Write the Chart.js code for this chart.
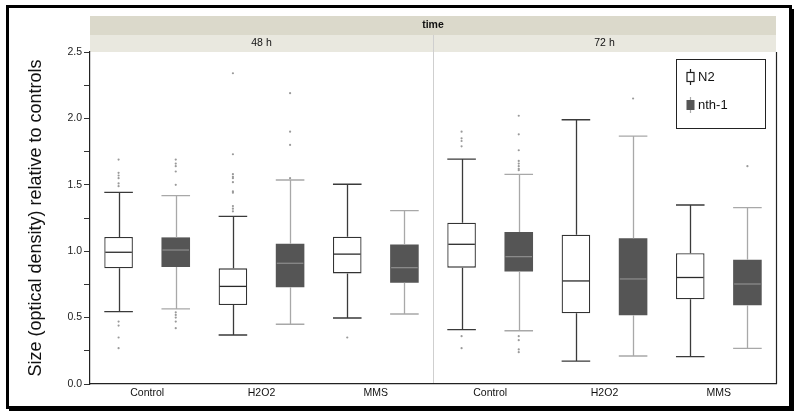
<!DOCTYPE html>
<html>
<head>
<meta charset="utf-8">
<script src="https://cdn.jsdelivr.net/npm/chart.js@4.4.1/dist/chart.umd.min.js"></script>
<style>
  html, body { margin: 0; padding: 0; background: #fff; }
  #wrap { position: relative; width: 800px; height: 417px; }
</style>
</head>
<body>
<div id="wrap"><canvas id="c"></canvas></div>
<script>
// ---- data ----
const categories = ['Control', 'H2O2', 'MMS', 'Control', 'H2O2', 'MMS'];
const timeGroups = ['48 h', '72 h'];
const facetTitle = 'time';
const yTitle = 'Size (optical density) relative to controls';
const seriesNames = ['N2', 'nth-1'];
const yTicks = [0, 0.5, 1.0, 1.5, 2.0, 2.5];

const n2Low    = [0.545, 0.369, 0.497, 0.409, 0.173, 0.206];
const n2Q1     = [0.871, 0.595, 0.833, 0.876, 0.532, 0.638];
const n2Median = [0.992, 0.735, 0.978, 1.052, 0.776, 0.802];
const n2Q3     = [1.107, 0.871, 1.109, 1.215, 1.124, 0.984];
const n2High   = [1.443, 1.262, 1.504, 1.694, 1.990, 1.348];
const n2Outliers = [
  [1.69, 1.59, 1.57, 1.55, 1.51, 1.49, 0.47, 0.44, 0.35, 0.27],
  [2.34, 1.73, 1.58, 1.56, 1.55, 1.52, 1.45, 1.44, 1.34, 1.32, 1.30],
  [0.35],
  [1.90, 1.85, 1.83, 1.79, 0.36, 0.27],
  [],
  []
];

const nthLow    = [0.565, 0.450, 0.527, 0.401, 0.211, 0.268];
const nthQ1     = [0.881, 0.728, 0.763, 0.848, 0.517, 0.593];
const nthMedian = [1.009, 0.909, 0.876, 0.959, 0.791, 0.753];
const nthQ3     = [1.104, 1.057, 1.050, 1.145, 1.097, 0.936];
const nthHigh   = [1.418, 1.536, 1.305, 1.579, 1.867, 1.328];
const nthOutliers = [
  [1.69, 1.66, 1.64, 1.60, 1.50, 0.54, 0.52, 0.50, 0.47, 0.42],
  [2.19, 1.90, 1.80, 1.55],
  [],
  [2.02, 1.88, 1.76, 1.68, 1.66, 1.64, 1.62, 1.61, 0.36, 0.33, 0.26, 0.24],
  [2.15],
  [1.64]
];

// ---- styles ----
const FONT = '"Liberation Sans", Arial, Helvetica, sans-serif';
const styles = [
  { fill: '#ffffff', border: '#333333', whisker: '#3a3a3a', median: '#2a2a2a', bw: 1.3 },
  { fill: '#555555', border: '#555555', whisker: '#a8a8a8', median: '#8a8a8a', bw: 0 }
];
const stats = [
  { low: n2Low, q1: n2Q1, med: n2Median, q3: n2Q3, high: n2High },
  { low: nthLow, q1: nthQ1, med: nthMedian, q3: nthQ3, high: nthHigh }
];
// slot offset of each series inside its category (in half-category units)
const seriesOffset = [0.5, 1.5];

function boxRanges(q1, q3, off) {
  return q1.map((v, i) => ({ x: 2 * i + off, y: [v, q3[i]] }));
}
function outlierPoints(outs, off) {
  const pts = [];
  outs.forEach((arr, i) => arr.forEach(v => pts.push({ x: 2 * i + off, y: v })));
  return pts;
}

const boxPlugin = {
  id: 'boxplotDecor',
  beforeDraw(chart) {
    const { ctx, chartArea: a } = chart;
    ctx.save();
    ctx.fillStyle = '#ffffff';
    ctx.fillRect(0, 0, chart.width, chart.height);
    ctx.fillStyle = '#dbd9cb';
    ctx.fillRect(a.left, a.top - 36, a.right - a.left, 19);
    ctx.fillStyle = '#e9e8df';
    ctx.fillRect(a.left, a.top - 17, a.right - a.left, 17);
    const xo = chart.scales.xo;
    ctx.fillStyle = '#111';
    ctx.textAlign = 'center';
    ctx.textBaseline = 'middle';
    ctx.font = 'bold 10.5px ' + FONT;
    ctx.fillText(facetTitle, (a.left + a.right) / 2, a.top - 26.5);
    ctx.font = '10.5px ' + FONT;
    timeGroups.forEach((t, g) => {
      ctx.fillText(t, xo.getPixelForValue(6 * g + 3), a.top - 8.5);
    });
    const dx = Math.round(xo.getPixelForValue(6)) + 0.5;
    ctx.strokeStyle = '#cfcfcf';
    ctx.lineWidth = 1;
    ctx.beginPath();
    ctx.moveTo(dx, a.top - 17);
    ctx.lineTo(dx, a.bottom);
    ctx.stroke();
    ctx.restore();
  },
  afterDatasetsDraw(chart) {
    const { ctx } = chart;
    const y = chart.scales.y;
    ctx.save();
    [0, 1].forEach(d => {
      const meta = chart.getDatasetMeta(d);
      const st = stats[d];
      const s = styles[d];
      meta.data.forEach((el, i) => {
        const x = Math.round(el.x) + 0.5;
        const hw = el.width / 2;
        const yLow = y.getPixelForValue(st.low[i]);
        const yQ1 = y.getPixelForValue(st.q1[i]);
        const yQ3 = y.getPixelForValue(st.q3[i]);
        const yHigh = y.getPixelForValue(st.high[i]);
        const yMed = y.getPixelForValue(st.med[i]);
        ctx.strokeStyle = s.whisker;
        ctx.lineWidth = 1.3;
        ctx.beginPath();
        ctx.moveTo(x, yQ3); ctx.lineTo(x, yHigh);
        ctx.moveTo(x, yQ1); ctx.lineTo(x, yLow);
        ctx.moveTo(el.x - hw, yHigh); ctx.lineTo(el.x + hw, yHigh);
        ctx.moveTo(el.x - hw, yLow); ctx.lineTo(el.x + hw, yLow);
        ctx.stroke();
        ctx.strokeStyle = s.median;
        ctx.beginPath();
        ctx.moveTo(el.x - hw + 1, yMed); ctx.lineTo(el.x + hw - 1, yMed);
        ctx.stroke();
      });
    });
    ctx.restore();
  },
  afterDraw(chart) {
    const { ctx, chartArea: a } = chart;
    ctx.save();
    ctx.strokeStyle = '#222';
    ctx.lineWidth = 1.2;
    ctx.beginPath();
    ctx.moveTo(a.right + 0.5, a.top);
    ctx.lineTo(a.right + 0.5, a.bottom);
    ctx.stroke();
    // legend
    const lx = a.right - 100, ly = a.top + 7, lw = 89, lh = 69;
    ctx.fillStyle = '#fff';
    ctx.fillRect(lx, ly, lw, lh);
    ctx.strokeStyle = '#222';
    ctx.lineWidth = 1;
    ctx.strokeRect(lx + 0.5, ly + 0.5, lw, lh);
    const rows = [ly + 18, ly + 46];
    let cx = lx + 14.5, cy = rows[0];
    ctx.strokeStyle = '#222';
    ctx.lineWidth = 1.2;
    ctx.beginPath(); ctx.moveTo(cx, cy - 8); ctx.lineTo(cx, cy + 8); ctx.stroke();
    ctx.fillStyle = '#fff';
    ctx.fillRect(cx - 3.5, cy - 4.5, 7, 9);
    ctx.strokeRect(cx - 3.5, cy - 4.5, 7, 9);
    cy = rows[1];
    ctx.strokeStyle = '#a8a8a8';
    ctx.beginPath(); ctx.moveTo(cx, cy - 8); ctx.lineTo(cx, cy + 8); ctx.stroke();
    ctx.fillStyle = '#555';
    ctx.fillRect(cx - 4, cy - 5, 8, 10);
    ctx.fillStyle = '#111';
    ctx.font = '13px ' + FONT;
    ctx.textAlign = 'left';
    ctx.textBaseline = 'middle';
    ctx.fillText(seriesNames[0], lx + 22, rows[0]);
    ctx.fillText(seriesNames[1], lx + 22, rows[1]);
    // outer border
    ctx.strokeStyle = '#000';
    ctx.lineWidth = 3;
    ctx.strokeRect(7.5, 6.5, 783, 401);
    ctx.fillStyle = '#000';
    ctx.fillRect(792, 9, 2, 402);
    ctx.fillRect(9, 409, 785, 2);
    ctx.restore();
  }
};

new Chart(document.getElementById('c'), {
  type: 'bar',
  data: {
    labels: categories,
    datasets: [
      {
        label: seriesNames[0],
        data: boxRanges(n2Q1, n2Q3, seriesOffset[0]),
        backgroundColor: styles[0].fill,
        borderColor: styles[0].border,
        borderWidth: styles[0].bw,
        borderSkipped: false,
        grouped: false,
        barPercentage: 0.5,
        categoryPercentage: 1.0,
        xAxisID: 'xo', yAxisID: 'y'
      },
      {
        label: seriesNames[1],
        data: boxRanges(nthQ1, nthQ3, seriesOffset[1]),
        backgroundColor: styles[1].fill,
        borderColor: styles[1].border,
        borderWidth: styles[1].bw,
        borderSkipped: false,
        grouped: false,
        barPercentage: 0.5,
        categoryPercentage: 1.0,
        xAxisID: 'xo', yAxisID: 'y'
      },
      {
        type: 'scatter',
        label: seriesNames[0] + ' outliers',
        data: outlierPoints(n2Outliers, seriesOffset[0]),
        pointRadius: 1.1,
        pointBackgroundColor: '#9a9a9a',
        pointBorderWidth: 0,
        xAxisID: 'xo', yAxisID: 'y'
      },
      {
        type: 'scatter',
        label: seriesNames[1] + ' outliers',
        data: outlierPoints(nthOutliers, seriesOffset[1]),
        pointRadius: 1.1,
        pointBackgroundColor: '#9a9a9a',
        pointBorderWidth: 0,
        xAxisID: 'xo', yAxisID: 'y'
      }
    ]
  },
  options: {
    responsive: true,
    maintainAspectRatio: false,
    animation: false,
    events: [],
    layout: { padding: { left: 21, right: 24, top: 52, bottom: 0 } },
    plugins: { legend: { display: false }, tooltip: { enabled: false } },
    scales: {
      x: {
        type: 'category',
        position: 'bottom',
        offset: true,
        grid: { display: false, drawTicks: false, tickLength: 0 },
        border: { display: true, color: '#222', width: 1.2 },
        ticks: { color: '#111', font: { family: FONT, size: 10.5 }, padding: 3, maxRotation: 0, autoSkip: false },
        afterFit(scale) { scale.height = 33; }
      },
      xo: {
        type: 'linear',
        position: 'bottom',
        display: false,
        min: 0, max: 12,
        offset: false,
        ticks: { stepSize: 1 }
      },
      y: {
        min: 0, max: 2.5,
        ticks: {
          stepSize: 0.25,
          color: '#222',
          padding: 2,
          font: { family: FONT, size: 10.5 },
          callback: (v) => yTicks.some(t => Math.abs(t - v) < 1e-9) ? v.toFixed(1) : ''
        },
        grid: {
          display: true, drawOnChartArea: false, drawTicks: true, tickLength: 6,
          color: '#333', tickColor: '#333'
        },
        border: { display: true, color: '#222', width: 1.2 },
        title: {
          display: true, text: yTitle, color: '#111',
          font: { family: FONT, size: 18 }, padding: { top: 4, bottom: 4 }
        },
        afterFit(scale) { scale.width = 69; }
      }
    }
  },
  plugins: [boxPlugin]
});
</script>
</body>
</html>
